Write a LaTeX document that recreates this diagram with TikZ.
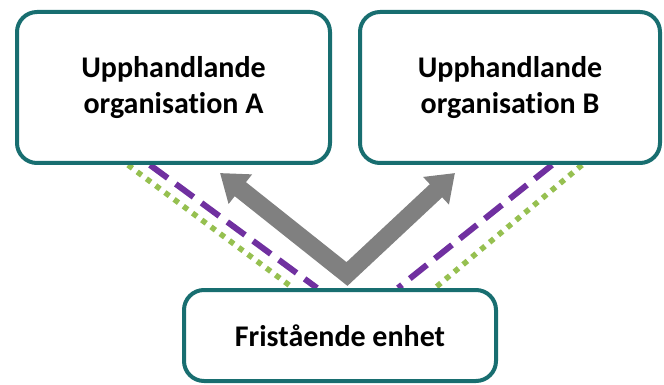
\documentclass[tikz,border=0pt]{standalone}
\usepackage{fontspec}
\setmainfont[Ligatures=NoCommon]{Carlito}
\usetikzlibrary{arrows.meta,backgrounds}
\definecolor{teal}{RGB}{24,110,112}
\definecolor{lila}{RGB}{112,48,160}
\definecolor{gron}{RGB}{150,192,80}
\definecolor{gra}{RGB}{128,128,128}
\begin{document}
\begin{tikzpicture}[x=1pt, y=-1pt,
    box/.style={draw=teal, line width=4pt, fill=white, rounded corners=20pt,
        align=center, font=\fontsize{30}{36}\selectfont\bfseries, inner sep=0pt},
    lilalinje/.style={draw=lila, line width=6pt, dash pattern=on 22pt off 10pt},
    gronlinje/.style={draw=gron, line width=5.5pt, dash pattern=on 5.5pt off 6pt},
    pil/.style={draw=gra, line width=18pt, line join=miter,
        {Triangle[width=36pt,length=26pt]}-{Triangle[width=36pt,length=26pt]}}]
    \useasboundingbox (0,0) rectangle (664,385);
    \node[box, minimum width=313pt, minimum height=151pt] (orgA) at (173.5,87.5)
        {Upphandlande\\organisation A};
    \node[box, minimum width=300pt, minimum height=151pt] (orgB) at (510,87.5)
        {Upphandlande\\organisation B};
    \node[box, minimum width=312pt, minimum height=91pt] (enhet) at (340,335.5)
        {Fristående enhet};
    \coordinate (spets) at ([xshift=7pt, yshift=14pt]enhet.north);
    \begin{scope}[on background layer]
        \draw[gronlinje] ([xshift=113pt]orgA.south west) -- ([xshift=111pt]enhet.north west);
        \draw[lilalinje] ([xshift=135pt]orgA.south west) -- ([xshift=135pt]enhet.north west);
        \draw[lilalinje] ([xshift=194pt]orgB.south west) -- ([xshift=216pt]enhet.north west);
        \draw[gronlinje] ([xshift=224pt]orgB.south west) -- ([xshift=253pt]enhet.north west);
    \end{scope}
    \draw[pil] ([xshift=-112pt, yshift=-8pt]orgA.south east) -- (spets)
        -- ([xshift=97pt, yshift=-8pt]orgB.south west);
\end{tikzpicture}
\end{document}
